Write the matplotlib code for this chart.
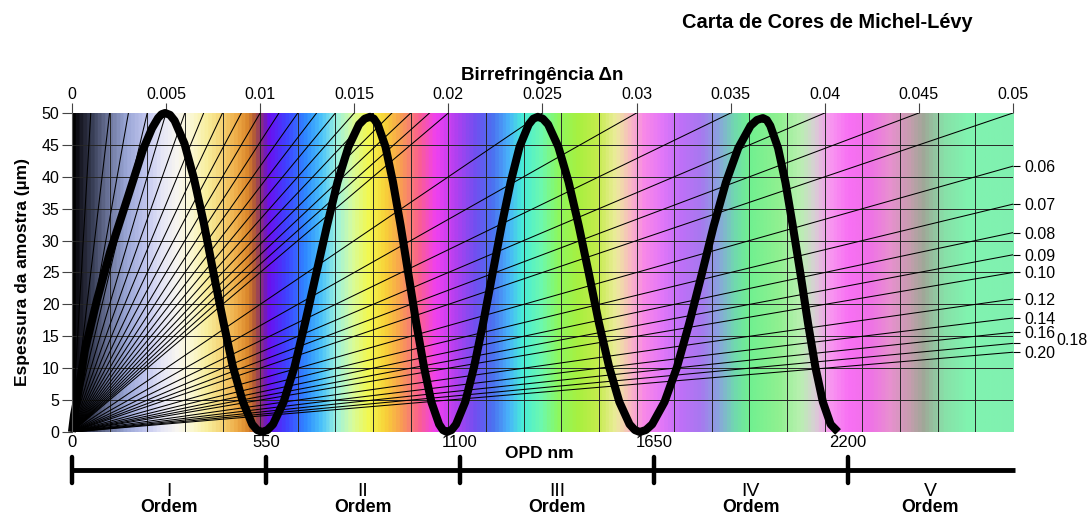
import numpy as np
import matplotlib.pyplot as plt
from matplotlib.colors import LinearSegmentedColormap
from matplotlib.transforms import blended_transform_factory

plt.rcParams['font.family'] = ['Liberation Sans', 'DejaVu Sans']

# interference colours across the chart, keyed by birefringence at 50 um
color_dn = [0.0000, 0.0003, 0.0010, 0.0018, 0.0028, 0.0039, 0.0047, 0.0055,
            0.0063, 0.0071, 0.0079, 0.0087, 0.0093, 0.0097, 0.0101, 0.0104,
            0.0113, 0.0124, 0.0132, 0.0140, 0.0148, 0.0157, 0.0166, 0.0174,
            0.0184, 0.0193, 0.0204, 0.0214, 0.0223, 0.0232, 0.0239, 0.0249,
            0.0258, 0.0269, 0.0279, 0.0289, 0.0296, 0.0304, 0.0313, 0.0323,
            0.0334, 0.0343, 0.0352, 0.0360, 0.0376, 0.0387, 0.0395, 0.0403,
            0.0413, 0.0424, 0.0435, 0.0445, 0.0453, 0.0464, 0.0477, 0.0500]
color_hex = ['#000000', '#15151f', '#3a4058', '#6a7398', '#9aa6d6', '#c4c8f0', '#e6e6f6', '#f8f6f0',
             '#fbf8d0', '#f8ee9c', '#f5d273', '#eeaa45', '#d8832a', '#a8503c', '#7a20a0', '#6a10f0',
             '#4040ff', '#2f8cff', '#4cc4fa', '#9cf2e0', '#d6fca0', '#f2f850', '#f8d238', '#f8a050',
             '#fa6090', '#f040f0', '#b040f0', '#7050f0', '#4c70f0', '#48b4fa', '#48ecd8', '#6cf8b0',
             '#8cf860', '#a8f040', '#c4ec4c', '#ecec9c', '#f8bcc0', '#f888e8', '#e478f8', '#c070f8',
             '#a878f0', '#8ca0e0', '#70d8b0', '#70f090', '#90f090', '#b8f0b0', '#d8d0d4', '#f898f0',
             '#f870f4', '#f070e8', '#e890d0', '#c89cb0', '#a0a898', '#88e0a8', '#80f4b0', '#80f0b0']

# birefringence lines drawn from the origin
dn_top_lines = [0.001, 0.002, 0.003, 0.004, 0.005, 0.006, 0.007, 0.008, 0.009, 0.010,
                0.011, 0.012, 0.013, 0.014, 0.015, 0.016, 0.017, 0.018, 0.019, 0.020,
                0.025, 0.030, 0.035, 0.040, 0.045, 0.050]
dn_side_lines = [0.06, 0.07, 0.08, 0.09, 0.10, 0.12, 0.14, 0.16, 0.18, 0.20]
dn_side_labels = ['0.06', '0.07', '0.08', '0.09', '0.10', '0.12', '0.14', '0.16', '', '0.20']
dn_ticks = [0, 0.005, 0.01, 0.015, 0.02, 0.025, 0.03, 0.035, 0.04, 0.045, 0.05]

# OPD scale and interference orders
opd_ticks = [0, 550, 1100, 1650, 2200]
opd_max = 2668
order_names = ['I', 'II', 'III', 'IV', 'V']

# intensity curve (OPD nm, thickness um), one row per flank
curve_opd = [0, 6, 14, 37, 71, 108, 156, 201, 227, 244, 254,
             264, 278, 291, 319, 346, 374, 401, 429, 456, 484, 511, 525,
             539, 554, 570, 600, 631, 661, 692, 723, 753, 784, 814, 830,
             845, 856, 867, 889, 910, 932, 954, 976, 998, 1019, 1041, 1052,
             1063, 1076, 1089, 1115, 1140, 1166, 1192, 1218, 1244, 1269, 1295, 1308,
             1321, 1335, 1350, 1379, 1408, 1437, 1466, 1494, 1523, 1552, 1581, 1596,
             1610, 1627, 1645, 1680, 1715, 1750, 1785, 1819, 1854, 1889, 1924, 1942,
             1959, 1970, 1980, 2002, 2023, 2044, 2066, 2087, 2108, 2129, 2151, 2172]
curve_thk = [0, 2.7, 5.0, 12.9, 20.7, 28.2, 36.4, 44.2, 47.6, 49.2, 49.8,
             50.0, 49.7, 48.8, 45.2, 39.7, 32.7, 25.0, 17.3, 10.3, 4.8, 1.2, 0.3,
             0, 0.3, 1.2, 4.7, 10.2, 17.1, 24.7, 32.3, 39.2, 44.7, 48.2, 49.1,
             49.4, 49.1, 48.2, 44.7, 39.2, 32.3, 24.7, 17.1, 10.2, 4.7, 1.2, 0.3,
             0, 0.3, 1.2, 4.7, 10.2, 17.1, 24.7, 32.3, 39.2, 44.7, 48.2, 49.1,
             49.4, 49.1, 48.2, 44.7, 39.2, 32.3, 24.7, 17.1, 10.2, 4.7, 1.2, 0.3,
             0, 0.3, 1.2, 4.7, 10.1, 17.0, 24.6, 32.2, 39.1, 44.5, 48.0, 48.9,
             49.2, 48.9, 48.0, 44.5, 39.1, 32.2, 24.6, 17.0, 10.1, 4.7, 1.2, 0]

thk_max = 50
dn_max = 0.05

fig = plt.figure(figsize=(10.87, 5.15), dpi=100)
ax = fig.add_axes([0.0662, 0.1612, 0.8657, 0.6194])
ax_dn = ax.twiny()

# colour band background
cmap = LinearSegmentedColormap.from_list(
    'michel_levy', list(zip(np.array(color_dn) / dn_max, color_hex)))
ax_dn.imshow(np.linspace(0, 1, 1500)[None, :], cmap=cmap, aspect='auto',
             extent=(0, dn_max, 0, thk_max), origin='lower', interpolation='bilinear')

# grid
for v in np.arange(0.002, dn_max, 0.002):
    ax_dn.axvline(v, color='#262626', lw=0.7)
for h in range(5, thk_max, 5):
    ax_dn.axhline(h, color='#262626', lw=0.7)

# birefringence fan
for d in dn_top_lines + dn_side_lines:
    ax_dn.plot([0, d], [0, thk_max], color='black', lw=0.75)

ax_dn.set_xlim(0, dn_max)
ax_dn.set_ylim(0, thk_max)
ax_dn.set_xticks(dn_ticks)
ax_dn.set_xticklabels(['{:g}'.format(t) for t in dn_ticks])
ax_dn.tick_params(axis='x', direction='out', length=7, width=0.8, color='#444444',
                  labelsize=11.5, pad=1)
ax_dn.set_xlabel('Birrefringência Δn', fontweight='bold', fontsize=13.5, labelpad=5)
for s in ax_dn.spines.values():
    s.set_visible(False)

# curve on top of the colour bands
ax.set_zorder(ax_dn.get_zorder() + 1)
ax.patch.set_visible(False)
ax.plot(curve_opd, curve_thk, color='black', lw=5.8, solid_joinstyle='round',
        solid_capstyle='butt', clip_on=False)

ax.set_xlim(0, opd_max)
ax.set_ylim(0, thk_max)
ax.set_xticks(opd_ticks)
ax.tick_params(axis='x', length=0, pad=2, labelsize=12)
ax.set_yticks(range(0, thk_max + 1, 5))
ax.tick_params(axis='y', direction='out', length=7, width=0.8, color='#444444',
               labelsize=11.5, pad=2)
ax.set_ylabel('Espessura da amostra (µm)', fontweight='bold', fontsize=12.5, labelpad=8)
for name, s in ax.spines.items():
    s.set_visible(name == 'left')
ax.spines['left'].set_color('#555555')
ax.spines['left'].set_linewidth(0.8)

# labels for the steep lines where they leave the right edge
right = ax.secondary_yaxis('right')
right.set_yticks([thk_max * dn_max / d for d in dn_side_lines])
right.set_yticklabels(dn_side_labels)
right.tick_params(length=5, width=0.8, pad=3, labelsize=11.5)
for s in right.spines.values():
    s.set_visible(False)
side_trans = blended_transform_factory(ax.transAxes, ax.transData)
ax.text(1.046, thk_max * dn_max / 0.18 + 0.4, '0.18', transform=side_trans,
        va='center', ha='left', fontsize=11.5)

ax.text(0.497, -0.066, 'OPD nm', transform=ax.transAxes, ha='center', va='center',
        fontweight='bold', fontsize=12.5)

# order bracket below the axis
order_trans = blended_transform_factory(ax.transData, ax.transAxes)
ax.plot([0, opd_max * 1.002], [-0.119, -0.119], transform=order_trans, clip_on=False,
        color='black', lw=3.5, solid_capstyle='butt')
for b in opd_ticks:
    ax.plot([b, b], [-0.078, -0.160], transform=order_trans, clip_on=False,
            color='black', lw=3.2, solid_capstyle='round')
bounds = opd_ticks + [opd_max]
for i, name in enumerate(order_names):
    mid = (bounds[i] + bounds[i + 1]) / 2
    ax.text(mid, -0.186, name, transform=order_trans, ha='center', va='center', fontsize=14)
    ax.text(mid, -0.236, 'Ordem', transform=order_trans, ha='center', va='center',
            fontsize=12.8, fontweight='bold')

fig.text(0.761, 0.957, 'Carta de Cores de Michel-Lévy', ha='center', va='center',
         fontweight='bold', fontsize=14.4)

fig.savefig('out.png', dpi=100)
